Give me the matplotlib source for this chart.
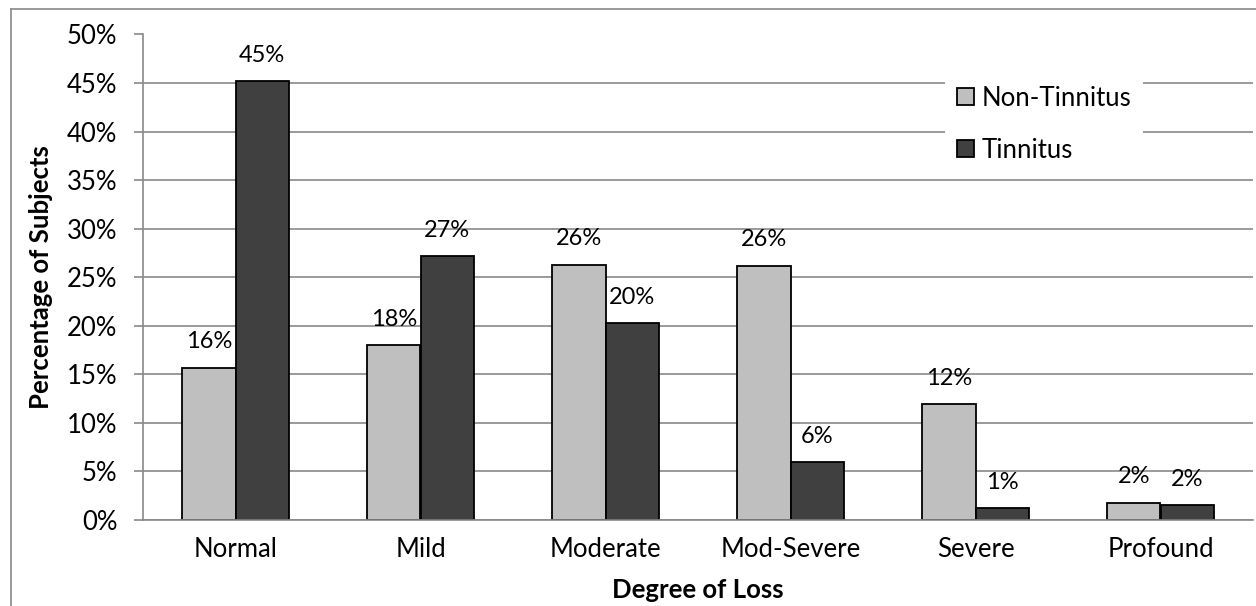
import matplotlib
matplotlib.use('Agg')
import matplotlib.pyplot as plt
import numpy as np
from matplotlib.patches import Patch
from matplotlib.lines import Line2D

plt.rcParams['font.family'] = ['Lato', 'DejaVu Sans']

categories = ['Normal', 'Mild', 'Moderate', 'Mod-Severe', 'Severe', 'Profound']
non_tinnitus = [15.7, 18.0, 26.3, 26.2, 11.9, 1.8]
tinnitus = [45.2, 27.2, 20.3, 6.0, 1.2, 1.5]
yticks = [0, 5, 10, 15, 20, 25, 30, 35, 40, 45, 50]

W, H = 1256, 606
fig = plt.figure(figsize=(W / 100, H / 100), dpi=100)
ax = fig.add_axes([143 / W, 1 - 520 / H, (1253 - 143) / W, (520 - 34.5) / H])

grid_c = '#898989'
light = '#bfbfbf'
dark = '#404040'
tick_fs = 18.5
lab_fs = 17

x = np.arange(len(categories))
bw = 0.287
b1 = ax.bar(x - bw / 2, non_tinnitus, bw, color=light, edgecolor='black', linewidth=1.3, zorder=3)
b2 = ax.bar(x + bw / 2, tinnitus, bw, color=dark, edgecolor='black', linewidth=1.3, zorder=3)

for bars, vals in ((b1, non_tinnitus), (b2, tinnitus)):
    for r, v in zip(bars, vals):
        ax.annotate(f'{v:.0f}%', (r.get_x() + r.get_width() / 2, v),
                    xytext=(0, 18.5), textcoords='offset points',
                    ha='center', va='center', fontsize=lab_fs, zorder=4)

ax.set_xlim(-0.5, len(categories) - 0.5)
ax.set_ylim(0, 50)
ax.set_yticks(yticks)
ax.set_yticklabels([f'{t}%' for t in yticks], fontsize=tick_fs)
ax.set_xticks(x)
ax.set_xticklabels(categories, fontsize=tick_fs)
ax.tick_params(axis='x', length=0, pad=12)
ax.tick_params(axis='y', length=6.5, width=1.2, color=grid_c, pad=12)
ax.yaxis.grid(True, color=grid_c, linewidth=1.2, zorder=0)
ax.set_axisbelow(True)
for s in ['top', 'right']:
    ax.spines[s].set_visible(False)
for s in ['left', 'bottom']:
    ax.spines[s].set_color(grid_c)
    ax.spines[s].set_linewidth(1.2)
    ax.spines[s].set_zorder(3.5)

fig.text(41 / W, 1 - 277 / H, 'Percentage of Subjects', rotation=90,
         ha='center', va='center', fontsize=tick_fs, fontweight='bold')
fig.text(698 / W, 1 - 590 / H, 'Degree of Loss',
         ha='center', va='center', fontsize=tick_fs, fontweight='bold')

handles = [Patch(facecolor=light, edgecolor='black', linewidth=1.3),
           Patch(facecolor=dark, edgecolor='black', linewidth=1.3)]
leg = fig.legend(handles, ['Non-Tinnitus', 'Tinnitus'], loc='upper left',
                 bbox_to_anchor=(945 / W, 1 - 74 / H), fontsize=tick_fs,
                 frameon=True, fancybox=False, edgecolor='none', facecolor='white',
                 framealpha=1, handlelength=0.66, handleheight=0.66,
                 handletextpad=0.32, labelspacing=1.05, borderpad=0.45,
                 borderaxespad=0)

# outer chart border (only top and left visible)
fig.add_artist(Line2D([10.7 / W, 10.7 / W], [0, 1 - 9.3 / H], color=grid_c, linewidth=1.2))
fig.add_artist(Line2D([10.7 / W, 1], [1 - 9.3 / H, 1 - 9.3 / H], color=grid_c, linewidth=1.2))

fig.savefig('out.png', dpi=100, facecolor='white')
